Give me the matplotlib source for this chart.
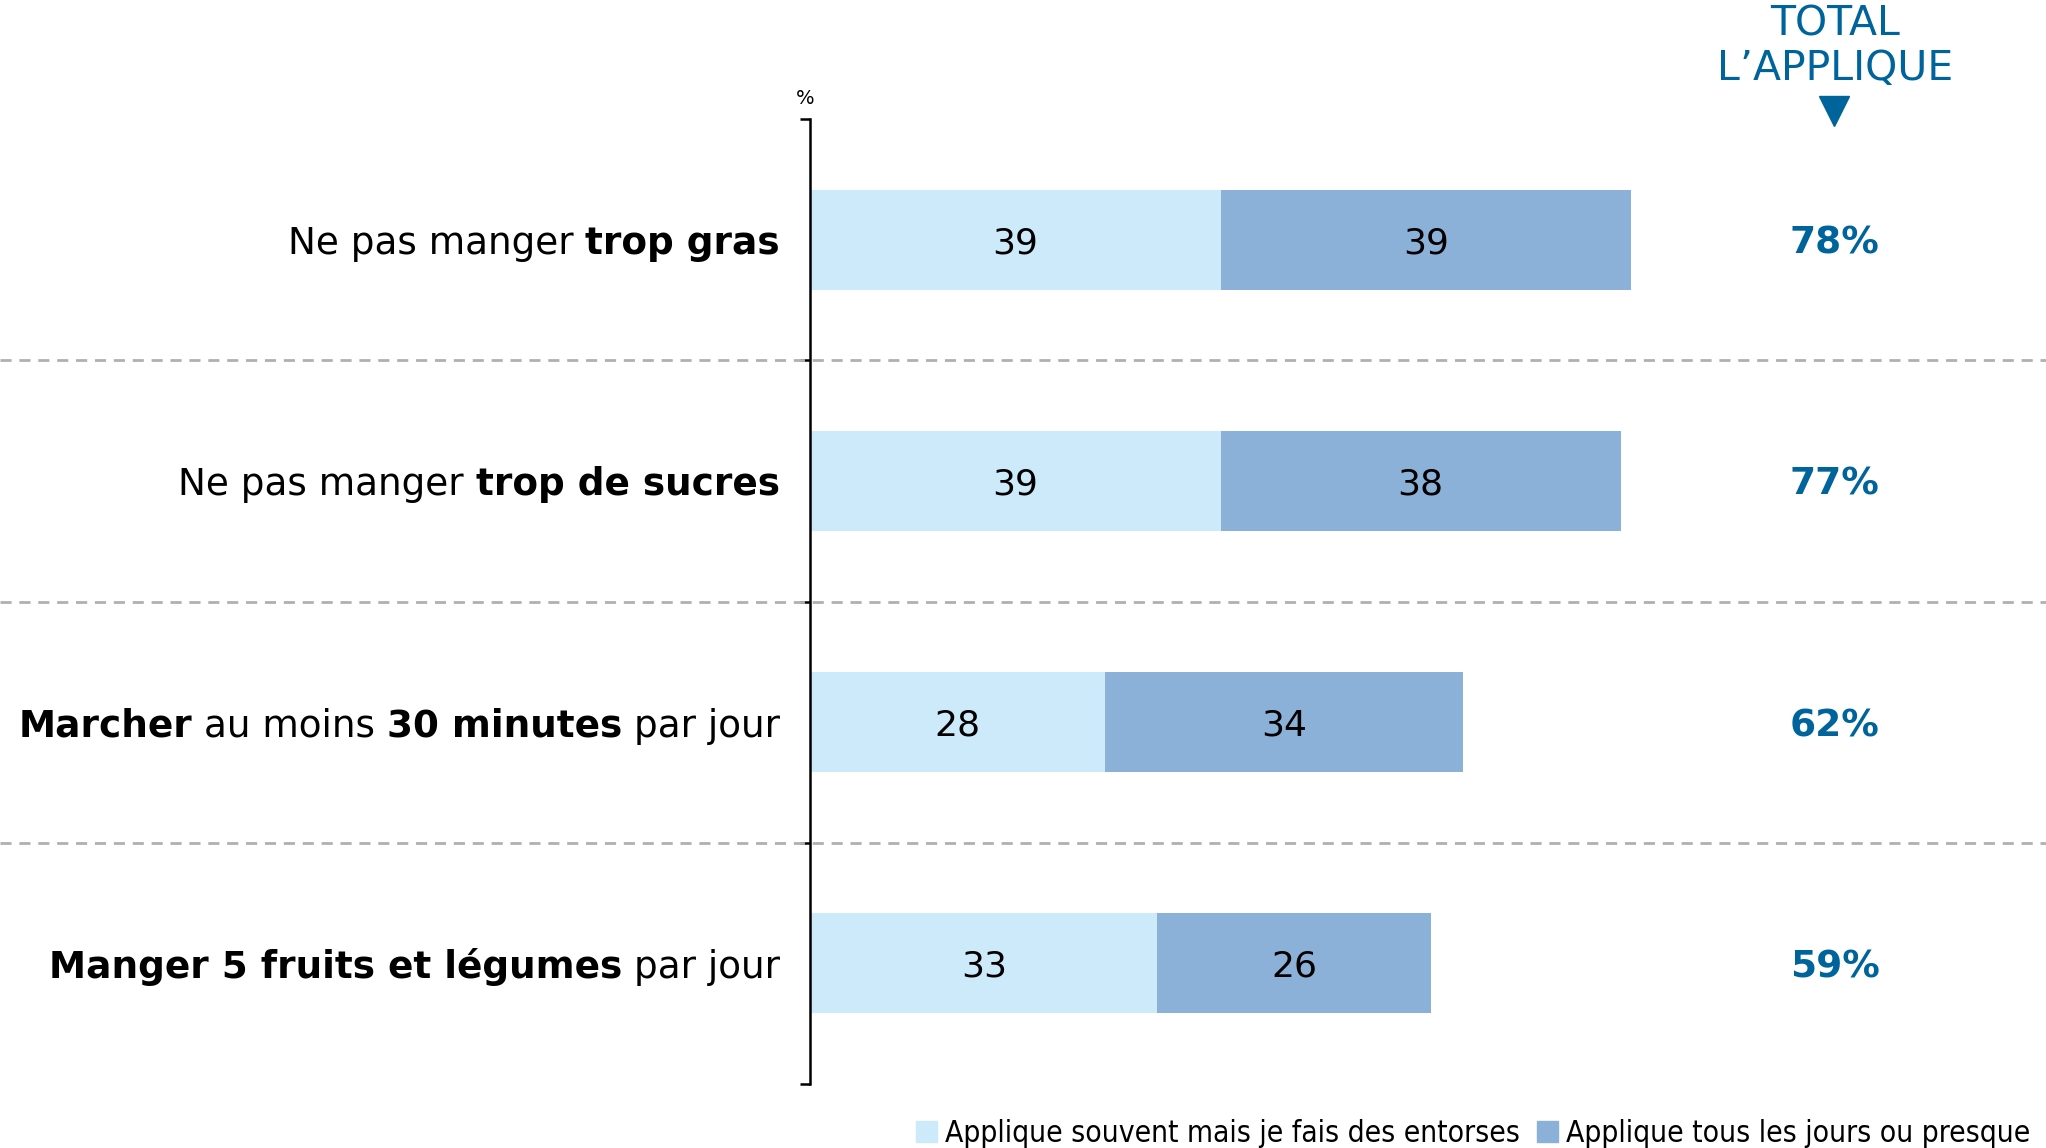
import matplotlib
matplotlib.use("Agg")
import matplotlib.pyplot as plt
from matplotlib.patches import Patch

# données
categories = [
    [("Ne pas manger", False), ("trop gras", True)],
    [("Ne pas manger", False), ("trop de sucres", True)],
    [("Marcher", True), ("au moins", False), ("30 minutes", True), ("par jour", False)],
    [("Manger 5 fruits et légumes", True), ("par jour", False)],
]
souvent = [39, 39, 28, 33]
tous_les_jours = [39, 38, 34, 26]
legend_labels = ["Applique souvent mais je fais des entorses", "Applique tous les jours ou presque"]

c_light = "#CCEAF9"
c_dark = "#8BB1D8"
c_total = "#00649C"

plt.rcParams["font.family"] = ["DejaVu Sans"]

W, H = 2046, 1148
fig = plt.figure(figsize=(W / 100, H / 100), dpi=100)
ax = fig.add_axes([810 / W, (H - 1084) / H, 1 - 810 / W, (1084 - 119) / H])

totals = [a + b for a, b in zip(souvent, tous_les_jours)]
y = list(range(len(categories)))

ax.barh(y, souvent, height=0.415, color=c_light)
ax.barh(y, tous_les_jours, left=souvent, height=0.415, color=c_dark)

for i in y:
    ax.text(souvent[i] / 2, i, str(souvent[i]), ha="center", va="center_baseline", fontsize=26)
    ax.text(souvent[i] + tous_les_jours[i] / 2, i, str(tous_les_jours[i]),
            ha="center", va="center_baseline", fontsize=26)
    ax.text(0.829, i, f"{totals[i]}%", transform=ax.get_yaxis_transform(),
            ha="center", va="center_baseline", fontsize=27, fontweight="bold", color=c_total)

ax.set_xlim(0, 1236 / 10.53)
ax.set_ylim(3.5, -0.5)

# lignes de séparation
axw = 1236
for yy in [0.5, 1.5, 2.5]:
    ax.axhline(yy, xmin=-810 / axw, xmax=1, clip_on=False, color="#B0B0B0",
               lw=2.0, ls=(0, (4, 2.8)))

for s in ["top", "right", "bottom"]:
    ax.spines[s].set_visible(False)
ax.spines["left"].set_linewidth(1.8)
ax.set_xticks([])
ax.set_yticks([-0.5, 0.5, 1.5, 2.5, 3.5])
ax.set_yticklabels([])
ax.tick_params(axis="y", length=7.5, width=1.8)

# libellés mixtes gras / normal
renderer = fig.canvas.get_renderer()
fs = 26.9
tmp1 = ax.text(0, 0, "x x", fontsize=fs)
tmp2 = ax.text(0, 0, "xx", fontsize=fs)
space_px = tmp1.get_window_extent(renderer).width - tmp2.get_window_extent(renderer).width
tmp1.remove()
tmp2.remove()

for i, parts in enumerate(categories):
    x = -30 / axw
    for k, (s, bold) in enumerate(reversed(parts)):
        t = ax.text(x, i, s, transform=ax.get_yaxis_transform(), ha="right", va="center_baseline",
                    fontsize=fs, fontweight="bold" if bold else "normal")
        w = t.get_window_extent(renderer).width
        x -= (w + space_px) / axw

fig.text(805 / W, 1 - 98 / H, "%", ha="center", va="center", fontsize=14)

# en-tête total
fig.text(1835 / W, 1 - 24 / H, "TOTAL", ha="center", va="center", fontsize=29.5, color=c_total)
fig.text(1835 / W, 1 - 69 / H, "L’APPLIQUE", ha="center", va="center", fontsize=29.5, color=c_total)
fig.add_artist(plt.Line2D([1834 / W], [1 - 111 / H], marker="v", markersize=22,
                          color=c_total, transform=fig.transFigure))

handles = [Patch(color=c_light), Patch(color=c_dark)]
fig.legend(handles, legend_labels, loc="center right", bbox_to_anchor=(2030 / W, 15 / H),
           ncol=2, frameon=False, borderaxespad=0, borderpad=0, handlelength=0.7,
           handleheight=0.7, handletextpad=0.25, columnspacing=0.6,
           prop={"family": ["DejaVu Sans"], "stretch": "condensed", "size": 21.5})

fig.savefig("out.png", dpi=100)
